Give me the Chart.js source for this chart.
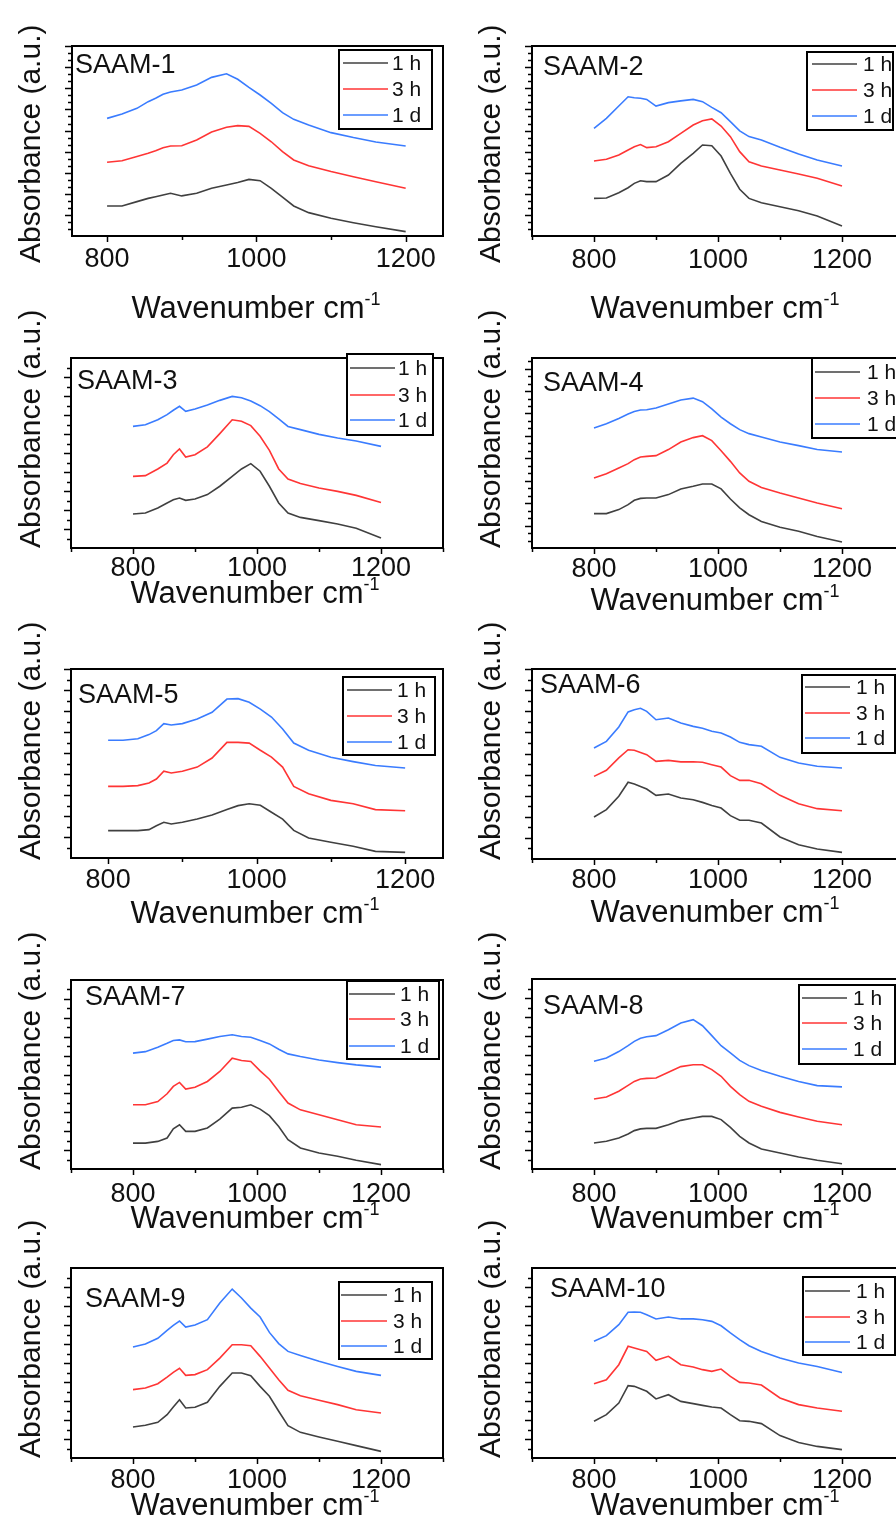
<!DOCTYPE html>
<html>
<head>
<meta charset="utf-8">
<script src="https://cdn.jsdelivr.net/npm/chart.js@4.4.1/dist/chart.umd.min.js"></script>
<style>
  html, body { margin: 0; padding: 0; background: #fff; overflow: hidden; }
  #figure { position: relative; width: 896px; height: 1526px; overflow: hidden; background: #fff; }
  #figure canvas { position: absolute; }
</style>
</head>
<body>
<div id="figure"></div>
<script>
// FTIR spectra, 800-1200 cm-1, three reaction times per sample (offset traces)
const wavenumbers = [800, 820, 840, 855, 865, 875, 885, 900, 920, 940, 960, 975, 990, 1005, 1020, 1035, 1050, 1070, 1100, 1130, 1160, 1200];
const seriesNames = ['1 h', '3 h', '1 d'];
const seriesColors = ['#404040', '#ff3535', '#3a7cff'];
const xLabelValues = [800, 1000, 1200];

const saam1_1h = [15.8, 15.8, 18.1, 19.8, 20.7, 21.6, 22.5, 21.1, 22.5, 25.1, 26.8, 28.2, 29.8, 29.1, 25.1, 20.4, 15.8, 12.3, 9.3, 7.0, 4.9, 2.3];
const saam1_3h = [38.8, 39.6, 41.8, 43.5, 44.9, 46.5, 47.4, 47.5, 50.5, 54.7, 57.2, 58.1, 57.7, 54.0, 49.6, 44.4, 40.0, 37.0, 33.9, 31.2, 28.6, 25.1];
const saam1_1d = [61.9, 64.2, 67.2, 70.7, 72.5, 74.6, 75.8, 76.8, 79.5, 83.5, 85.4, 82.5, 78.2, 74.2, 69.8, 64.9, 61.4, 58.4, 54.4, 51.8, 49.5, 47.4];

const saam2_1h = [19.8, 20.0, 22.8, 25.4, 27.7, 29.1, 28.6, 28.6, 32.1, 38.2, 43.5, 47.9, 47.5, 42.1, 33.0, 24.6, 19.8, 17.5, 15.4, 13.3, 10.5, 5.3];
const saam2_3h = [39.5, 40.4, 42.6, 45.3, 47.0, 48.1, 46.5, 47.0, 49.6, 54.0, 58.4, 60.7, 61.6, 57.9, 52.3, 44.4, 39.1, 36.8, 34.7, 32.6, 30.4, 26.3];
const saam2_1d = [56.7, 61.9, 68.4, 73.3, 72.8, 72.5, 71.9, 68.4, 70.2, 71.1, 71.9, 70.7, 67.7, 64.9, 60.2, 55.3, 52.3, 50.5, 46.7, 43.2, 40.0, 36.8];

const saam3_1h = [17.9, 18.4, 21.1, 23.7, 25.4, 26.3, 25.1, 25.8, 28.1, 32.5, 37.7, 41.6, 44.4, 40.4, 32.5, 23.7, 18.4, 16.1, 14.4, 12.6, 10.4, 5.3];
const saam3_3h = [37.7, 38.1, 41.6, 44.7, 49.1, 52.1, 47.9, 49.1, 53.2, 60.2, 67.5, 66.7, 64.4, 58.8, 51.4, 41.6, 36.3, 33.9, 31.6, 29.8, 27.7, 24.0];
const saam3_1d = [64.0, 64.9, 67.5, 70.2, 72.5, 74.6, 71.9, 73.2, 75.3, 77.7, 79.8, 79.1, 77.4, 74.9, 71.8, 67.9, 64.0, 62.3, 59.8, 57.9, 56.3, 53.5];

const saam4_1h = [18.1, 18.1, 20.2, 22.8, 25.1, 26.1, 26.3, 26.3, 28.1, 31.1, 32.5, 33.7, 33.7, 31.1, 25.8, 21.1, 17.5, 14.0, 10.9, 8.8, 6.1, 3.2];
const saam4_3h = [36.8, 39.1, 42.1, 44.4, 46.5, 47.9, 48.2, 48.6, 51.8, 55.8, 58.1, 59.1, 56.5, 51.2, 45.6, 39.5, 35.1, 31.9, 28.9, 26.3, 23.7, 20.7];
const saam4_1d = [63.2, 65.4, 68.2, 70.5, 71.8, 72.6, 72.8, 73.7, 75.8, 77.9, 78.9, 77.0, 73.2, 68.9, 65.4, 62.3, 60.2, 58.4, 55.8, 53.9, 51.8, 50.5];

const saam5_1h = [14.5, 14.5, 14.5, 15.0, 17.1, 18.9, 18.0, 18.9, 20.6, 22.8, 25.6, 27.7, 28.7, 27.9, 24.2, 20.6, 14.6, 10.6, 8.3, 6.2, 3.5, 3.0];
const saam5_3h = [37.9, 37.9, 38.3, 39.7, 41.8, 45.9, 45.0, 45.9, 48.1, 52.9, 61.2, 61.2, 60.8, 57.0, 53.4, 48.1, 37.9, 34.0, 30.5, 28.7, 25.6, 25.0];
const saam5_1d = [62.3, 62.3, 63.1, 65.3, 67.4, 71.1, 70.4, 71.1, 73.5, 77.1, 84.1, 84.3, 82.4, 78.8, 74.6, 68.3, 60.8, 57.0, 53.3, 51.0, 48.9, 47.6];

const saam6_1h = [22.1, 26.0, 33.0, 40.4, 39.5, 38.2, 36.8, 33.5, 34.2, 32.1, 31.2, 29.8, 28.2, 26.8, 22.8, 20.4, 20.4, 18.9, 11.6, 7.5, 5.3, 3.5];
const saam6_3h = [43.5, 46.7, 53.2, 57.5, 57.2, 56.1, 54.9, 51.4, 51.9, 51.1, 51.2, 50.9, 49.6, 48.4, 43.9, 41.4, 41.4, 39.6, 33.5, 29.1, 26.5, 25.4];
const saam6_1d = [58.4, 61.9, 69.5, 77.4, 78.6, 79.3, 77.7, 73.3, 74.2, 71.6, 69.8, 68.8, 67.2, 66.3, 64.2, 61.4, 60.2, 59.3, 53.5, 50.5, 48.8, 47.9];

const saam7_1h = [13.7, 13.7, 14.6, 16.4, 21.3, 23.4, 19.9, 19.9, 21.7, 26.4, 32.2, 32.7, 34.0, 31.7, 28.2, 22.5, 15.5, 11.1, 8.5, 6.7, 4.6, 2.3];
const saam7_3h = [34.0, 34.0, 35.7, 39.8, 43.7, 45.8, 42.3, 43.3, 46.3, 51.6, 58.6, 57.4, 56.9, 51.9, 47.5, 41.0, 34.9, 31.3, 28.7, 26.1, 23.4, 22.2];
const saam7_1d = [61.3, 62.1, 64.4, 66.5, 68.0, 68.3, 67.3, 67.4, 68.7, 70.1, 71.0, 70.1, 69.7, 68.0, 66.2, 63.4, 60.9, 59.5, 57.7, 56.3, 55.1, 53.9];

const saam8_1h = [13.7, 14.6, 16.3, 18.4, 20.2, 21.1, 21.4, 21.4, 23.3, 25.6, 26.8, 27.7, 27.7, 26.0, 21.9, 17.2, 13.7, 10.5, 8.4, 6.3, 4.6, 2.8];
const saam8_3h = [36.8, 37.9, 40.9, 44.0, 46.1, 47.4, 47.7, 47.9, 50.9, 53.9, 54.9, 54.9, 52.3, 48.8, 43.5, 39.1, 35.6, 33.0, 29.8, 27.4, 25.1, 23.3];
const saam8_1d = [56.7, 58.4, 61.8, 64.9, 67.2, 68.8, 69.6, 70.2, 73.3, 76.8, 78.6, 75.4, 70.2, 64.9, 61.1, 57.2, 54.4, 51.8, 48.8, 46.1, 43.9, 43.2];

const saam9_1h = [16.3, 17.2, 18.8, 22.8, 26.8, 30.7, 26.3, 26.7, 29.3, 37.7, 44.7, 44.7, 43.3, 37.7, 32.5, 24.6, 17.0, 13.5, 11.1, 8.8, 6.5, 3.5];
const saam9_3h = [36.0, 36.8, 39.1, 42.6, 45.1, 47.2, 43.5, 43.9, 46.5, 52.6, 59.6, 59.6, 59.1, 53.5, 47.4, 41.2, 35.6, 32.8, 30.4, 28.1, 25.4, 23.7];
const saam9_1d = [58.4, 60.0, 63.0, 67.2, 69.8, 72.1, 68.9, 70.0, 72.8, 81.6, 88.9, 84.2, 78.9, 74.2, 66.1, 60.2, 56.1, 54.0, 50.9, 48.2, 45.6, 43.5];

const saam10_1h = [19.3, 22.8, 28.9, 38.1, 37.7, 36.5, 35.1, 31.1, 33.3, 29.8, 28.6, 27.7, 26.8, 26.3, 22.8, 19.6, 19.3, 18.1, 11.8, 8.2, 6.1, 4.4];
const saam10_3h = [39.1, 41.2, 49.1, 58.8, 57.9, 57.0, 56.1, 51.4, 53.5, 49.1, 47.9, 46.5, 45.6, 46.8, 43.0, 39.8, 39.5, 38.4, 31.6, 28.1, 26.3, 24.6];
const saam10_1d = [61.4, 64.4, 70.2, 76.7, 76.8, 76.7, 75.4, 73.2, 74.2, 73.2, 73.2, 72.8, 71.9, 69.6, 65.8, 62.3, 59.1, 56.1, 52.6, 50.0, 48.2, 45.0];

const FONT = '"Liberation Sans", Arial, Helvetica, sans-serif';
const INK = '#111';

/* ---------- panel layout (page pixels) ---------- */

const panels = [
  { name: 'SAAM-1', col: 0, series: [saam1_1h, saam1_3h, saam1_1d], frame: { l: 72, t: 46, r: 443, b: 236 }, xMin: 753, xMax: 1250,
    yStep: 11.1, yMinor: 2, tickPad: 7, title: [75, 73], xTitle: [256, 318], yTitle: [40, 263],
    legend: { l: 339, t: 50, r: 432, b: 129, x1: 343, x2: 388, tx: 392, rows: [63, 89, 115] } },
  { name: 'SAAM-2', col: 1, series: [saam2_1h, saam2_3h, saam2_1d], frame: { l: 532, t: 46, r: 904, b: 236 }, xMin: 700, xMax: 1300,
    yStep: 11.1, yMinor: 2, tickPad: 8, title: [543, 75], xTitle: [715, 318], yTitle: [500, 263],
    legend: { l: 807, t: 52, r: 893, b: 130, x1: 812, x2: 857, tx: 863, rows: [64, 90, 116] } },
  { name: 'SAAM-3', col: 0, series: [saam3_1h, saam3_3h, saam3_1d], frame: { l: 71, t: 358, r: 443, b: 548 }, xMin: 700, xMax: 1300,
    yStep: 10, yMinor: 1, tickPad: 4, title: [77, 389], xTitle: [255, 603], yTitle: [40, 548],
    legend: { l: 347, t: 354, r: 433, b: 435, x1: 350, x2: 395, tx: 398, rows: [368, 395, 420] } },
  { name: 'SAAM-4', col: 1, series: [saam4_1h, saam4_3h, saam4_1d], frame: { l: 532, t: 358, r: 904, b: 548 }, xMin: 700, xMax: 1300,
    yStep: 11.8, yMinor: 2, tickPad: 5, title: [543, 391], xTitle: [715, 610], yTitle: [500, 548],
    legend: { l: 812, t: 358, r: 915, b: 438, x1: 815, x2: 860, tx: 867, rows: [372, 398, 424] } },
  { name: 'SAAM-5', col: 0, series: [saam5_1h, saam5_3h, saam5_1d], frame: { l: 71, t: 669, r: 443, b: 858 }, xMin: 750, xMax: 1251,
    yStep: 11.1, yMinor: 1, tickPad: 6, title: [78, 703], xTitle: [255, 923], yTitle: [40, 860],
    legend: { l: 343, t: 677, r: 435, b: 755, x1: 347, x2: 392, tx: 397, rows: [690, 716, 742] } },
  { name: 'SAAM-6', col: 1, series: [saam6_1h, saam6_3h, saam6_1d], frame: { l: 532, t: 669, r: 904, b: 859 }, xMin: 700, xMax: 1300,
    yStep: 11.1, yMinor: 1, tickPad: 5, title: [540, 693], xTitle: [715, 922], yTitle: [500, 860],
    legend: { l: 802, t: 675, r: 895, b: 753, x1: 805, x2: 850, tx: 856, rows: [687, 713, 738] } },
  { name: 'SAAM-7', col: 0, series: [saam7_1h, saam7_3h, saam7_1d], frame: { l: 71, t: 980, r: 443, b: 1169 }, xMin: 700, xMax: 1300,
    yStep: 10, yMinor: 1, tickPad: 9, title: [85, 1005], xTitle: [255, 1228], yTitle: [40, 1170],
    legend: { l: 347, t: 981, r: 439, b: 1059, x1: 349, x2: 395, tx: 400, rows: [994, 1019, 1046] } },
  { name: 'SAAM-8', col: 1, series: [saam8_1h, saam8_3h, saam8_1d], frame: { l: 532, t: 979, r: 904, b: 1169 }, xMin: 700, xMax: 1300,
    yStep: 10, yMinor: 1, tickPad: 9, title: [543, 1014], xTitle: [715, 1228], yTitle: [500, 1170],
    legend: { l: 799, t: 985, r: 895, b: 1064, x1: 802, x2: 847, tx: 853, rows: [998, 1023, 1049] } },
  { name: 'SAAM-9', col: 0, series: [saam9_1h, saam9_3h, saam9_1d], frame: { l: 71, t: 1268, r: 443, b: 1458 }, xMin: 700, xMax: 1300,
    yStep: 10, yMinor: 1, tickPad: 6, title: [85, 1307], xTitle: [255, 1515], yTitle: [40, 1458],
    legend: { l: 339, t: 1282, r: 432, b: 1359, x1: 341, x2: 387, tx: 393, rows: [1295, 1321, 1346] } },
  { name: 'SAAM-10', col: 1, series: [saam10_1h, saam10_3h, saam10_1d], frame: { l: 532, t: 1268, r: 904, b: 1458 }, xMin: 700, xMax: 1300,
    yStep: 10, yMinor: 1, tickPad: 6, title: [550, 1297], xTitle: [715, 1515], yTitle: [500, 1458],
    legend: { l: 803, t: 1277, r: 895, b: 1355, x1: 805, x2: 850, tx: 856, rows: [1291, 1317, 1342] } }
];

/* ---------- frame, ticks, legend and labels ---------- */

function seg(ctx, x1, y1, x2, y2) {
  ctx.beginPath();
  ctx.moveTo(x1, y1);
  ctx.lineTo(x2, y2);
  ctx.stroke();
}

function makeDecor(panel, ox, oy) {
  return {
    id: 'panelDecor',
    afterDraw(chart) {
      const { ctx, chartArea: a } = chart;
      const xs = chart.scales.x, ys = chart.scales.y;
      ctx.save();

      // tick marks, pointing outward
      ctx.strokeStyle = '#000';
      ctx.lineWidth = 1.5;
      for (let v = 700; v <= 1300; v += 100) {
        if (v < xs.min || v > xs.max) continue;
        const px = Math.round(xs.getPixelForValue(v)) + 0.5;
        seg(ctx, px, a.bottom, px, a.bottom + (v % 200 === 0 ? 6 : 4));
      }
      const minorStep = panel.yStep / (panel.yMinor + 1);
      for (let i = 1; i * minorStep < ys.max; i++) {
        const py = Math.round(ys.getPixelForValue(i * minorStep)) + 0.5;
        const major = i % (panel.yMinor + 1) === 0;
        seg(ctx, a.left - (major ? 7 : 4), py, a.left, py);
      }

      // plot frame
      ctx.lineWidth = 2;
      ctx.strokeRect(a.left, a.top, a.right - a.left, a.bottom - a.top);

      // legend box
      const lg = panel.legend;
      ctx.fillStyle = '#fff';
      ctx.fillRect(lg.l - ox, lg.t - oy, lg.r - lg.l, lg.b - lg.t);
      ctx.strokeRect(lg.l - ox, lg.t - oy, lg.r - lg.l, lg.b - lg.t);
      ctx.font = `21px ${FONT}`;
      ctx.textBaseline = 'middle';
      ctx.textAlign = 'left';
      seriesNames.forEach((label, i) => {
        const yy = lg.rows[i] - oy;
        ctx.strokeStyle = seriesColors[i];
        ctx.lineWidth = 1.5;
        seg(ctx, lg.x1 - ox, yy, lg.x2 - ox, yy);
        ctx.fillStyle = INK;
        ctx.fillText(label, lg.tx - ox, yy + 1);
      });

      // sample name
      ctx.fillStyle = INK;
      ctx.textBaseline = 'alphabetic';
      ctx.font = `27px ${FONT}`;
      ctx.fillText(panel.name, panel.title[0] - ox, panel.title[1] - oy);

      // x title with superscript
      const main = 'Wavenumber cm', sup = '-1';
      ctx.font = `31px ${FONT}`;
      const w1 = ctx.measureText(main).width;
      ctx.font = `18px ${FONT}`;
      const w2 = ctx.measureText(sup).width;
      const x0 = panel.xTitle[0] - ox - (w1 + w2) / 2;
      const yb = panel.xTitle[1] - oy;
      ctx.font = `31px ${FONT}`;
      ctx.fillText(main, x0, yb);
      ctx.font = `18px ${FONT}`;
      ctx.fillText(sup, x0 + w1, yb - 13);

      // y title
      ctx.translate(panel.yTitle[0] - ox, panel.yTitle[1] - oy);
      ctx.rotate(-Math.PI / 2);
      ctx.font = `30px ${FONT}`;
      ctx.fillText('Absorbance (a.u.)', 0, 0);

      ctx.restore();
    }
  };
}

/* ---------- build charts ---------- */

const figure = document.getElementById('figure');

panels.forEach(panel => {
  const f = panel.frame;
  const ox = panel.col === 0 ? 0 : 450;
  const cw = panel.col === 0 ? 450 : 470;
  const oy = f.t - 60;
  const ch = (f.b - f.t) + 60 + 95;

  const canvas = document.createElement('canvas');
  canvas.width = cw;
  canvas.height = ch;
  canvas.style.left = ox + 'px';
  canvas.style.top = oy + 'px';
  canvas.style.width = cw + 'px';
  canvas.style.height = ch + 'px';
  figure.appendChild(canvas);

  new Chart(canvas, {
    type: 'line',
    data: {
      datasets: panel.series.map((vals, i) => ({
        label: seriesNames[i],
        data: wavenumbers.map((w, k) => ({ x: w, y: vals[k] })),
        borderColor: seriesColors[i],
        borderWidth: 1.6,
        pointRadius: 0,
        tension: 0,
        fill: false
      }))
    },
    options: {
      responsive: false,
      animation: false,
      devicePixelRatio: 1,
      layout: { padding: { left: 0, top: f.t - oy, right: cw - (f.r - ox), bottom: 0 } },
      plugins: { legend: { display: false }, tooltip: { enabled: false } },
      scales: {
        x: {
          type: 'linear',
          min: panel.xMin,
          max: panel.xMax,
          afterFit: s => { s.height = ch - (f.b - oy); },
          afterBuildTicks: s => { s.ticks = xLabelValues.map(v => ({ value: v })); },
          grid: { display: false, drawTicks: false },
          border: { display: false },
          ticks: {
            padding: panel.tickPad,
            color: INK,
            font: { family: FONT, size: 27 },
            maxRotation: 0,
            autoSkip: false,
            callback: v => String(v)
          }
        },
        y: {
          type: 'linear',
          min: 0,
          max: 100,
          afterFit: s => { s.width = f.l - ox; },
          grid: { display: false, drawTicks: false },
          border: { display: false },
          ticks: { display: false }
        }
      }
    },
    plugins: [makeDecor(panel, ox, oy)]
  });
});
</script>
</body>
</html>
